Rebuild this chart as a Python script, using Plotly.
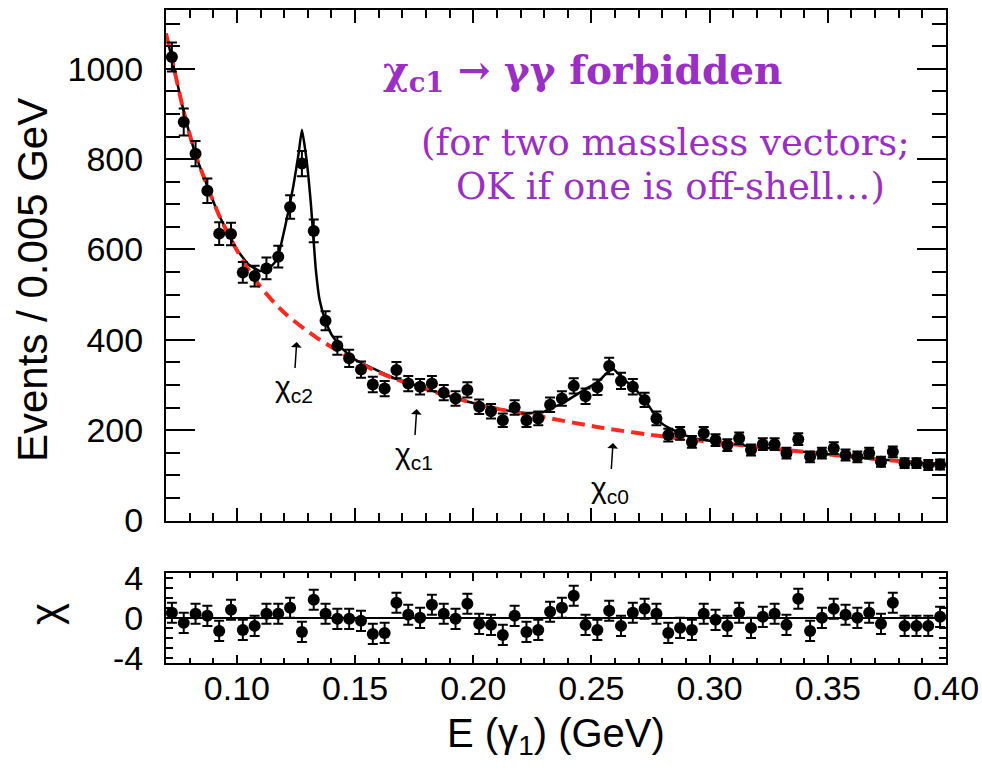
import plotly.graph_objects as go

# ---------------- data ----------------
e_gamma = [0.0725, 0.0775, 0.0825, 0.0875, 0.0925, 0.0975, 0.1025, 0.1075, 0.1125, 0.1175,
           0.1225, 0.1275, 0.1325, 0.1375, 0.1425, 0.1475, 0.1525, 0.1575, 0.1625, 0.1675,
           0.1725, 0.1775, 0.1825, 0.1875, 0.1925, 0.1975, 0.2025, 0.2075, 0.2125, 0.2175,
           0.2225, 0.2275, 0.2325, 0.2375, 0.2425, 0.2475, 0.2525, 0.2575, 0.2625, 0.2675,
           0.2725, 0.2775, 0.2825, 0.2875, 0.2925, 0.2975, 0.3025, 0.3075, 0.3125, 0.3175,
           0.3225, 0.3275, 0.3325, 0.3375, 0.3425, 0.3475, 0.3525, 0.3575, 0.3625, 0.3675,
           0.3725, 0.3775, 0.3825, 0.3875, 0.3925, 0.3975]
events = [1026, 882, 812, 730, 635, 634, 549, 541, 558, 584,
          694, 790, 641, 442, 387, 359, 334, 301, 292, 333,
          303, 296, 303, 283, 270, 289, 252, 242, 222, 250,
          222, 226, 256, 270, 298, 275, 295, 342, 309, 296,
          267, 226, 189, 193, 174, 193, 178, 167, 182, 156,
          169, 169, 149, 180, 141, 149, 160, 145, 141, 149,
          130, 152, 127, 127, 123, 124]
events_err = [32, 30, 28, 27, 25, 25, 23, 23, 24, 24,
              26, 28, 25, 21, 20, 19, 18, 17, 17, 18,
              17, 17, 17, 17, 16, 17, 16, 16, 15, 16,
              15, 15, 16, 16, 17, 17, 17, 18, 18, 17,
              16, 15, 14, 14, 13, 14, 13, 13, 13, 12,
              13, 13, 12, 13, 12, 12, 13, 12, 12, 12,
              11, 12, 11, 11, 11, 11]
chi = [0.5, -0.5, 0.4, 0.2, -1.3, 0.8, -1.2, -0.8, 0.4, 0.4,
       1.0, -1.4, 1.8, 0.4, -0.1, -0.1, -0.3, -1.6, -1.5, 1.5,
       0.3, 0.0, 1.3, 0.4, -0.1, 1.4, -0.6, -0.7, -1.7, 0.2,
       -1.4, -1.2, 0.6, 1.0, 2.2, -0.7, -1.2, 0.7, -0.8, 0.5,
       0.9, 0.4, -1.5, -1.0, -1.2, 0.4, -0.2, -0.8, 0.5, -1.0,
       0.1, 0.4, -0.7, 1.9, -1.3, 0.0, 0.9, 0.3, 0.0, 0.5,
       -0.6, 1.5, -0.8, -0.8, -0.8, 0.1]
chi_err = [1.0] * len(chi)

# background (red dashed)
bkg_x = [0.070, 0.0725, 0.0775, 0.0825, 0.0875, 0.0925, 0.100, 0.1084, 0.1196, 0.1337,
         0.152, 0.1662, 0.1943, 0.2113, 0.2296, 0.2536, 0.2818, 0.3111, 0.3396, 0.3665, 0.400]
bkg_y = [1078, 1022, 905, 810, 740, 675, 598, 528, 462, 405,
         348, 315, 268, 246, 229, 206, 185, 168, 152, 138, 123]

# total fit (black solid)
fit_x = [0.070, 0.0725, 0.0775, 0.0825, 0.0875, 0.0925, 0.100, 0.105, 0.110, 0.114,
         0.117, 0.121, 0.1238, 0.1261, 0.1275, 0.1295, 0.1314, 0.1333, 0.1350, 0.1372,
         0.1400, 0.1440, 0.150, 0.1662, 0.1943, 0.2113, 0.2225, 0.2296, 0.2325, 0.2375,
         0.2469, 0.2528, 0.2588, 0.2631, 0.2688, 0.2745, 0.2788, 0.2832, 0.292, 0.3111,
         0.3396, 0.3665, 0.400]
fit_y = [1078, 1022, 905, 810, 740, 675, 600, 566, 552, 560,
         578, 665, 738, 812, 865, 797, 694, 560, 488, 446,
         412, 383, 356, 316, 268, 246, 238, 240, 248, 259,
         289, 307, 337, 315, 289, 252, 219, 204, 184, 168,
         152, 138, 123]

x_tick_vals = [0.10, 0.15, 0.20, 0.25, 0.30, 0.35, 0.40]
x_tick_text = ["0.10", "0.15", "0.20", "0.25", "0.30", "0.35", "0.40"]
chi_tick_vals = [-4, 0, 4]
chi_tick_text = ["-4", "0", "4"]

# ---------------- layout helpers (pixel -> paper) ----------------
W, H = 982, 776
ML, MR, MT, MB = 166, 36, 10, 113
PW, PH = W - ML - MR, H - MT - MB


def pxx(x):
    return (x - ML) / PW


def pxy(y):
    return (H - MB - y) / PH


main_dom = [pxy(520.5), 1.0]
res_dom = [0.0, pxy(572.7)]

fig = go.Figure()

# main panel
fig.add_trace(go.Scatter(x=fit_x, y=fit_y, mode="lines",
                         line=dict(color="black", width=2.5, shape="spline", smoothing=0.4),
                         xaxis="x2", yaxis="y2", showlegend=False, hoverinfo="skip"))
fig.add_trace(go.Scatter(x=bkg_x, y=bkg_y, mode="lines",
                         line=dict(color="#ff2a1f", width=4, dash="13px,7px", shape="spline", smoothing=0.8),
                         xaxis="x2", yaxis="y2", showlegend=False, hoverinfo="skip"))
fig.add_trace(go.Scatter(x=e_gamma, y=events, mode="markers",
                         marker=dict(color="black", size=12),
                         error_y=dict(type="data", array=events_err, color="black", thickness=2, width=5),
                         xaxis="x2", yaxis="y2", showlegend=False))

# residual panel
fig.add_trace(go.Scatter(x=e_gamma, y=chi, mode="markers",
                         marker=dict(color="black", size=12),
                         error_y=dict(type="data", array=chi_err, color="black", thickness=2, width=5),
                         xaxis="x", yaxis="y", showlegend=False))

tick_font = dict(family="Liberation Sans", size=34, color="black")

common_x = dict(range=[0.07, 0.40], showline=True, linecolor="black", linewidth=2,
                mirror="allticks", ticks="inside", tickcolor="black", tickwidth=1.5,
                showgrid=False, zeroline=False, tickvals=x_tick_vals, ticktext=x_tick_text,
                automargin=False)

fig.update_layout(
    width=W, height=H,
    margin=dict(l=ML, r=MR, t=MT, b=MB, autoexpand=False),
    paper_bgcolor="white", plot_bgcolor="white",
    xaxis=dict(**common_x, anchor="y", ticklen=8,
               minor=dict(dtick=0.01, tick0=0.0, ticklen=5, ticks="inside", tickcolor="black", tickwidth=1.5),
               tickfont=dict(family="Liberation Sans", size=34, color="black"), ticklabelstandoff=-6),
    xaxis2=dict(**common_x, anchor="y2", ticklen=13, showticklabels=False,
                minor=dict(dtick=0.01, tick0=0.0, ticklen=8, ticks="inside", tickcolor="black", tickwidth=1.5)),
    yaxis=dict(domain=res_dom, range=[-4.5, 4.5], anchor="x", showline=True, linecolor="black",
               linewidth=2, mirror="allticks", ticks="inside", ticklen=7, tickcolor="black", tickwidth=1.5,
               tickvals=chi_tick_vals, ticktext=chi_tick_text,
               minor=dict(dtick=1, ticklen=7, ticks="inside", tickcolor="black", tickwidth=1.5),
               showgrid=False, zeroline=True, zerolinecolor="black", zerolinewidth=1.5,
               tickfont=tick_font, ticklabelstandoff=14, automargin=False),
    yaxis2=dict(domain=main_dom, range=[0, 1130], anchor="x2", showline=True, linecolor="black",
                linewidth=2, mirror="allticks", ticks="inside", ticklen=29, tickcolor="black", tickwidth=1.5,
                dtick=200, tick0=0,
                minor=dict(dtick=50, ticklen=14, ticks="inside", tickcolor="black", tickwidth=1.5),
                showgrid=False, zeroline=False, tickfont=tick_font, ticklabelstandoff=14,
                automargin=False),
)

ann = []
# axis titles
ann.append(dict(text="Events / 0.005 GeV", x=pxx(33), y=pxy(280), xref="paper", yref="paper",
                textangle=-90, showarrow=False, xanchor="center", yanchor="middle",
                font=dict(family="Liberation Sans", size=42, color="black")))
ann.append(dict(text="χ", x=pxx(45), y=pxy(614), xref="paper", yref="paper",
                textangle=-90, showarrow=False, xanchor="center", yanchor="middle",
                font=dict(family="Liberation Sans", size=42, color="black")))
ann.append(dict(text="E (γ<sub>1</sub>) (GeV)", x=pxx(556), y=pxy(736), xref="paper", yref="paper",
                showarrow=False, xanchor="center", yanchor="middle",
                font=dict(family="Liberation Sans", size=40, color="black")))

# purple note
purple = "#9a2fc4"
ann.append(dict(text="<b>χ<sub>c1</sub> → γγ forbidden</b>", x=pxx(582), y=pxy(72),
                xref="paper", yref="paper", showarrow=False, xanchor="center", yanchor="middle",
                font=dict(family="DejaVu Serif", size=39, color=purple)))
ann.append(dict(text="(for two massless vectors;", x=pxx(665), y=pxy(142),
                xref="paper", yref="paper", showarrow=False, xanchor="center", yanchor="middle",
                font=dict(family="DejaVu Serif", size=37, color=purple)))
ann.append(dict(text="OK if one is off-shell…)", x=pxx(670), y=pxy(186),
                xref="paper", yref="paper", showarrow=False, xanchor="center", yanchor="middle",
                font=dict(family="DejaVu Serif", size=37, color=purple)))

# state markers: label below, thin arrow pointing up
for lab, tipx, tipy in [("c2", 296.7, 342), ("c1", 416.7, 409), ("c0", 613, 443)]:
    ann.append(dict(text="χ<sub>" + lab + "</sub>", x=pxx(tipx), y=pxy(tipy), xref="paper",
                    yref="paper", showarrow=True, ax=-3, ay=46, axref="pixel", ayref="pixel",
                    arrowhead=1, arrowsize=1.2, arrowwidth=1.5, arrowcolor="black", standoff=0,
                    startstandoff=0,
                    font=dict(family="Liberation Sans", size=30, color="black")))

fig.update_layout(annotations=ann)

fig.write_html("out.html")
